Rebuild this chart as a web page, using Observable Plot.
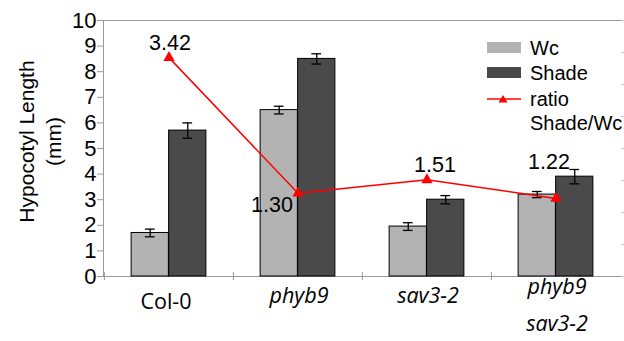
<!DOCTYPE html>
<html>
<head>
<meta charset="utf-8">
<script src="https://cdn.jsdelivr.net/npm/d3@7"></script>
<script src="https://cdn.jsdelivr.net/npm/@observablehq/plot@0.6"></script>
<style>
  html, body { margin: 0; padding: 0; background: white; }
  #wrap { position: relative; width: 624px; height: 341px; font-family: "Liberation Sans", Arial, sans-serif; }
  #legend { position: absolute; left: 487px; top: 36px; font-size: 20px; color: #000; }
  .item { position: absolute; left: 0; white-space: nowrap; }
  .sw { position: absolute; left: 0; width: 34px; height: 11px; }
  .lbl { position: absolute; left: 43px; line-height: 24px; }
</style>
</head>
<body>
<div id="wrap">
  <div id="chart"></div>
  <div id="legend">
    <div class="item" style="top:6px"><div class="sw" style="background:#b3b3b3"></div><div class="lbl" style="top:-6px">Wc</div></div>
    <div class="item" style="top:31px"><div class="sw" style="background:#4a4a4a"></div><div class="lbl" style="top:-6px">Shade</div></div>
    <div class="item" style="top:63px">
      <svg width="34" height="10" style="position:absolute;left:0;top:-5px">
        <line x1="0" y1="5" x2="34" y2="5" stroke="#ff0000" stroke-width="1.5"/>
        <path d="M16,1 L20.5,8.5 L11.5,8.5 Z" fill="#ff0000"/>
      </svg>
      <div class="lbl" style="top:-12px">ratio<br>Shade/Wc</div>
    </div>
  </div>
</div>
<script>
const genotypes = ["Col-0", "phyb9", "sav3-2", "phyb9\nsav3-2"];
const wcValues = [1.7, 6.5, 1.95, 3.2];
const wcErrors = [0.15, 0.15, 0.15, 0.12];
const shadeValues = [5.7, 8.5, 3.0, 3.9];
const shadeErrors = [0.3, 0.2, 0.16, 0.28];
const ratioValues = [3.42, 1.30, 1.51, 1.22];
const ratioLabels = ["3.42", "1.30", "1.51", "1.22"];
const leftTicks = [0, 1, 2, 3, 4, 5, 6, 7, 8, 9, 10];
const rightTicks = [0, 0.5, 1, 1.5, 2, 2.5, 3, 3.5, 4];
const leftMax = 10, rightMax = 4;

const W = 624, H = 341, mL = 103, mR = 4, mT = 20, mB = 65;
const band = (W - mL - mR) / genotypes.length;
const barW = 37.5, capW = 10;
const k = leftMax / rightMax;

const bars = genotypes.map((g, i) => ({g, wc: wcValues[i], wce: wcErrors[i], sh: shadeValues[i], she: shadeErrors[i], r: ratioValues[i] * k, lab: ratioLabels[i]}));

const gray = "#9a9a9a";
const labelOffsets = [[1, -15], [-26, 12], [8, -15], [-7, -36]];
const xFont = "'Open Sans', sans-serif";

const chart = Plot.plot({
  width: W, height: H,
  marginLeft: mL, marginRight: mR, marginTop: mT, marginBottom: mB,
  style: {fontFamily: "'Liberation Sans', Arial, sans-serif", background: "white", overflow: "visible"},
  x: {domain: genotypes, padding: 0, axis: null},
  y: {domain: [0, leftMax], axis: null},
  marks: [
    Plot.frame({anchor: "left", stroke: gray}),
    Plot.frame({anchor: "top", stroke: gray, insetRight: -4}),
    Plot.frame({anchor: "bottom", stroke: gray}),
    Plot.axisY(leftTicks, {anchor: "left", tickSize: 6, tickPadding: 1, fontSize: 22, stroke: gray, fill: "black", label: null}),
    Plot.axisY(rightTicks.map(v => v * k), {anchor: "right", tickSize: 4, tickFormat: () => "", stroke: "#c4c4c4", label: null}),
    Plot.ruleX(genotypes, {x: d => d, dx: -band / 2, y1: -0.16, y2: 0.16, stroke: gray}),
    Plot.barY(bars, {x: "g", y: "wc", fill: "#b3b3b3", stroke: "black", strokeWidth: 1, insetLeft: band / 2 - barW, insetRight: band / 2}),
    Plot.barY(bars, {x: "g", y: "sh", fill: "#4a4a4a", stroke: "black", strokeWidth: 1, insetLeft: band / 2, insetRight: band / 2 - barW}),
    Plot.ruleX(bars, {x: "g", y1: d => d.wc - d.wce, y2: d => d.wc + d.wce, dx: -barW / 2, stroke: "black", strokeWidth: 1.3}),
    Plot.ruleX(bars, {x: "g", y1: d => d.sh - d.she, y2: d => d.sh + d.she, dx: barW / 2, stroke: "black", strokeWidth: 1.3}),
    ...["wc", "sh"].flatMap((key, j) => {
      const off = j === 0 ? -barW / 2 : barW / 2;
      const eKey = j === 0 ? "wce" : "she";
      return [-1, 1].map(s => Plot.tickY(bars, {x: "g", y: d => d[key] + s * d[eKey], stroke: "black", strokeWidth: 1.3,
        insetLeft: band / 2 + off - capW / 2, insetRight: band / 2 - off - capW / 2}));
    }),
    Plot.line(bars, {x: "g", y: "r", stroke: "#ff0000", strokeWidth: 1.5}),
    Plot.dot(bars, {x: "g", y: "r", symbol: "triangle", r: 4.2, fill: "#ff0000", stroke: "none"}),
    ...bars.map((b, i) => Plot.text([b], {x: "g", y: "r", text: "lab", fontSize: 21.5, fill: "black", dx: labelOffsets[i][0], dy: labelOffsets[i][1], lineAnchor: "middle"})),
    Plot.text(["Hypocotyl Length\n(mm)"], {frameAnchor: "left", text: d => d, rotate: -90, textAnchor: "middle", dx: -65, dy: -7, fontSize: 21, lineHeight: 1.29, lineAnchor: "middle", fill: "black"}),
    Plot.text([genotypes[0]], {x: d => d, y: 0, text: d => d, dy: 26, dx: -3, fontSize: 21.5, fontFamily: xFont, lineAnchor: "middle", fill: "black"}),
    Plot.text(genotypes.slice(1, 3), {x: d => d, y: 0, text: d => d, dy: 20, dx: 1, fontSize: 21.5, fontStyle: "italic", fontFamily: xFont, lineAnchor: "middle", fill: "black"}),
    Plot.text(genotypes.slice(3), {x: d => d, y: 0, text: d => d, dy: 24, dx: 1, fontSize: 21.5, fontStyle: "italic", fontFamily: xFont, lineHeight: 1.72, lineAnchor: "middle", fill: "black"})
  ]
});
document.getElementById("chart").appendChild(chart);
</script>
</body>
</html>
